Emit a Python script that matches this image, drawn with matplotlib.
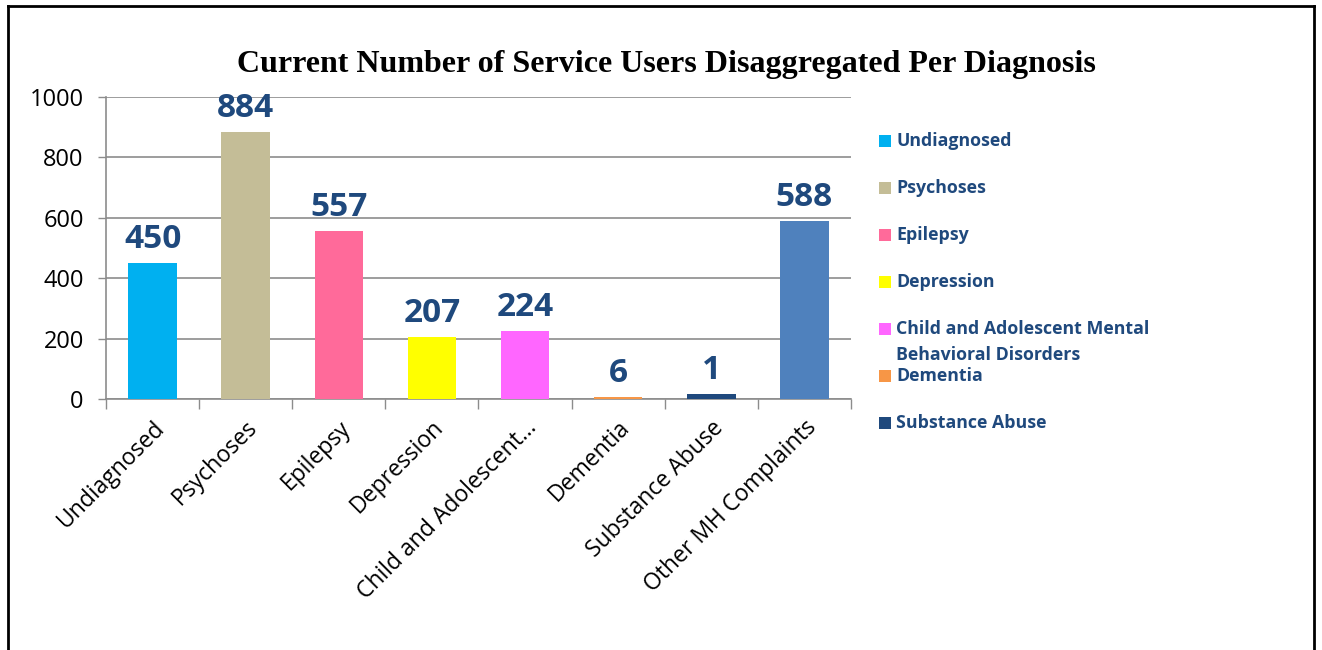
import matplotlib.pyplot as plt
from matplotlib.patches import Rectangle
from matplotlib.lines import Line2D

# data
categories = ['Undiagnosed', 'Psychoses', 'Epilepsy', 'Depression',
              'Child and Adolescent Mental\nBehavioral Disorders', 'Dementia',
              'Substance Abuse', 'Other MH Complaints']
tick_labels = ['Undiagnosed', 'Psychoses', 'Epilepsy', 'Depression',
               'Child and Adolescent...', 'Dementia', 'Substance Abuse',
               'Other MH Complaints']
bar_heights = [450, 884, 557, 207, 224, 6, 17, 588]
value_labels = ['450', '884', '557', '207', '224', '6', '1', '588']
colors = ['#00B0F0', '#C4BD97', '#FF6A9A', '#FFFF00', '#FF66FF',
          '#F79646', '#1F497D', '#4F81BD']

label_blue = '#1F497D'
grid_gray = '#8C8C8C'
W, H = 1322, 650

fig = plt.figure(figsize=(W / 100, H / 100), dpi=100)
ax = fig.add_axes([0.0802, 0.386, 0.5635, 0.465])

x = range(len(categories))
ax.bar(x, bar_heights, width=0.52, color=colors, zorder=3)

for i, (h, lab) in enumerate(zip(bar_heights, value_labels)):
    ax.annotate(lab, (i, h), xytext=(0, 5), textcoords='offset points',
                ha='center', va='bottom', fontsize=24, fontweight='bold',
                color=label_blue, family='Open Sans')

ax.set_xlim(-0.5, len(categories) - 0.5)
ax.set_ylim(0, 1000)
ax.set_yticks(range(0, 1001, 200))
ax.tick_params(axis='y', labelsize=17, length=6, color=grid_gray, width=1, pad=10)
for t in ax.get_yticklabels():
    t.set_family('Open Sans')

# tick marks between categories, labels under bars
ax.set_xticks([i + 0.5 for i in range(-1, len(categories))])
ax.set_xticklabels([])
ax.tick_params(axis='x', length=7, color=grid_gray, width=1)
ax.set_xticks(list(x), minor=True)
ax.set_xticklabels(tick_labels, minor=True, rotation=45, ha='right',
                   rotation_mode='anchor', fontsize=16.5, family='Open Sans')
ax.tick_params(axis='x', which='minor', length=0, pad=12)

ax.grid(axis='y', color=grid_gray, linewidth=1.2, zorder=0)
for s in ['top', 'right']:
    ax.spines[s].set_visible(False)
for s in ['left', 'bottom']:
    ax.spines[s].set_color(grid_gray)
    ax.spines[s].set_linewidth(1.2)

fig.text(0.504, 0.901, 'Current Number of Service Users Disaggregated Per Diagnosis',
         ha='center', va='center', fontsize=23, fontweight='bold',
         family='Liberation Serif')

# legend (first seven series), laid out by hand like the original
for i, (lab, c) in enumerate(zip(categories[:7], colors[:7])):
    yc = 141 + 47 * i
    fig.add_artist(Rectangle((879 / W, 1 - (yc + 6) / H), 12 / W, 12 / H,
                             facecolor=c, transform=fig.transFigure))
    for j, line in enumerate(lab.split('\n')):
        fig.text(896 / W, 1 - (yc + 26 * j) / H, line, ha='left', va='center',
                 fontsize=12.8, fontweight='bold', color=label_blue,
                 family='Open Sans')

# outer frame (bottom edge cut off)
frame_kw = dict(color='black', linewidth=2, transform=fig.transFigure)
fig.add_artist(Line2D([8 / W, 8 / W], [0, 1 - 6 / H], **frame_kw))
fig.add_artist(Line2D([8 / W, 1314 / W], [1 - 6 / H, 1 - 6 / H], **frame_kw))
fig.add_artist(Line2D([1314 / W, 1314 / W], [0, 1 - 6 / H], **frame_kw))

fig.savefig('out.png', dpi=100)
